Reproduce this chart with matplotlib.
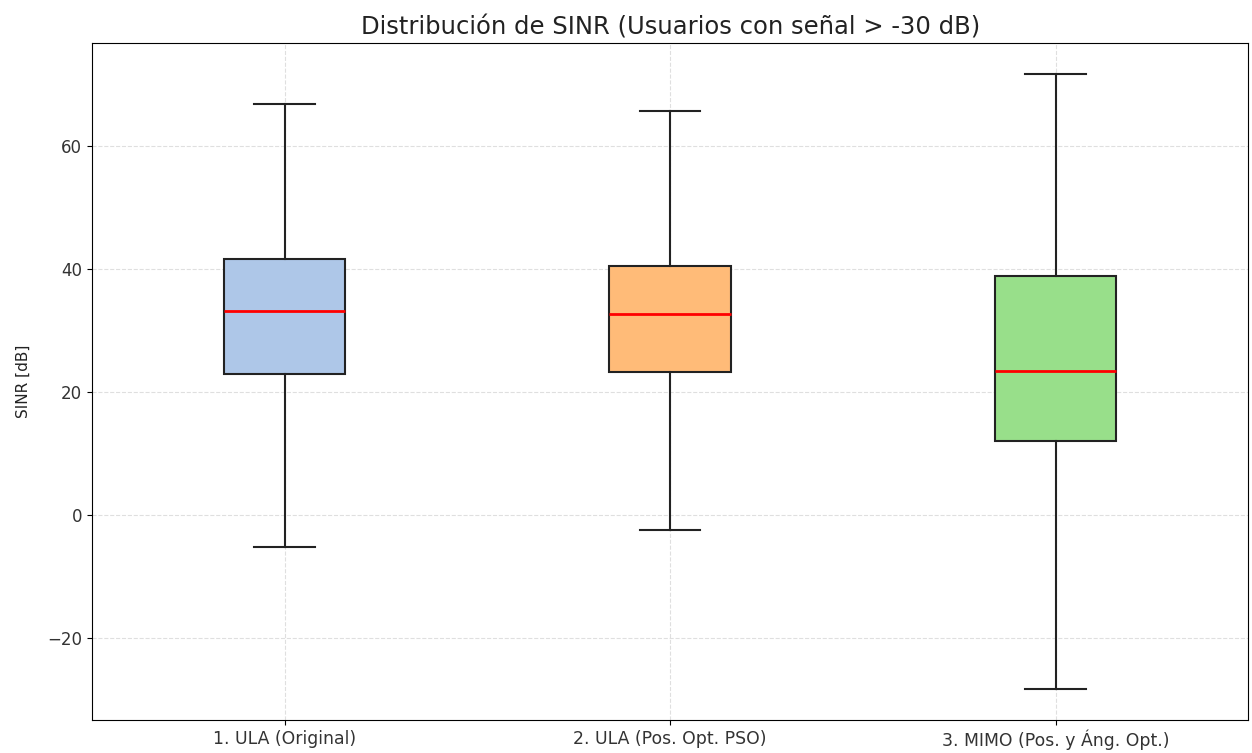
import matplotlib
matplotlib.use('Agg')
import matplotlib.pyplot as plt

labels = ['1. ULA (Original)', '2. ULA (Pos. Opt. PSO)', '3. MIMO (Pos. y Áng. Opt.)']
whislo = [-5.2, -2.4, -28.3]
q1 = [22.9, 23.3, 12.0]
med = [33.2, 32.7, 23.4]
q3 = [41.6, 40.5, 38.9]
whishi = [66.8, 65.7, 71.7]
colors = ['#aec7e8', '#ffbb78', '#98df8a']

stats = [
    {'label': l, 'whislo': lo, 'q1': a, 'med': m, 'q3': b, 'whishi': hi, 'fliers': []}
    for l, lo, a, m, b, hi in zip(labels, whislo, q1, med, q3, whishi)
]

fig, ax = plt.subplots(figsize=(12.52, 7.53), dpi=100)
bp = ax.bxp(stats, patch_artist=True, showfliers=False, widths=0.315,
            boxprops=dict(linewidth=1.5, edgecolor='#222222'),
            whiskerprops=dict(linewidth=1.5, color='#222222'),
            capprops=dict(linewidth=1.5, color='#222222'),
            medianprops=dict(linewidth=2, color='red'))
for patch, c in zip(bp['boxes'], colors):
    patch.set_facecolor(c)

ax.set_title('Distribución de SINR (Usuarios con señal > -30 dB)', fontsize=17.5, color='#222222')
ax.set_ylabel('SINR [dB]', fontsize=11, color='#222222', labelpad=12)
ax.tick_params(axis='y', labelsize=12, labelcolor='#333333')
ax.tick_params(axis='x', labelsize=12.4, labelcolor='#333333')
ax.grid(True, linestyle='--', alpha=0.4)
ax.set_ylim(-33.3, 76.7)

fig.subplots_adjust(left=0.0735, right=0.997, top=0.943, bottom=0.044)
fig.savefig('out.png')
